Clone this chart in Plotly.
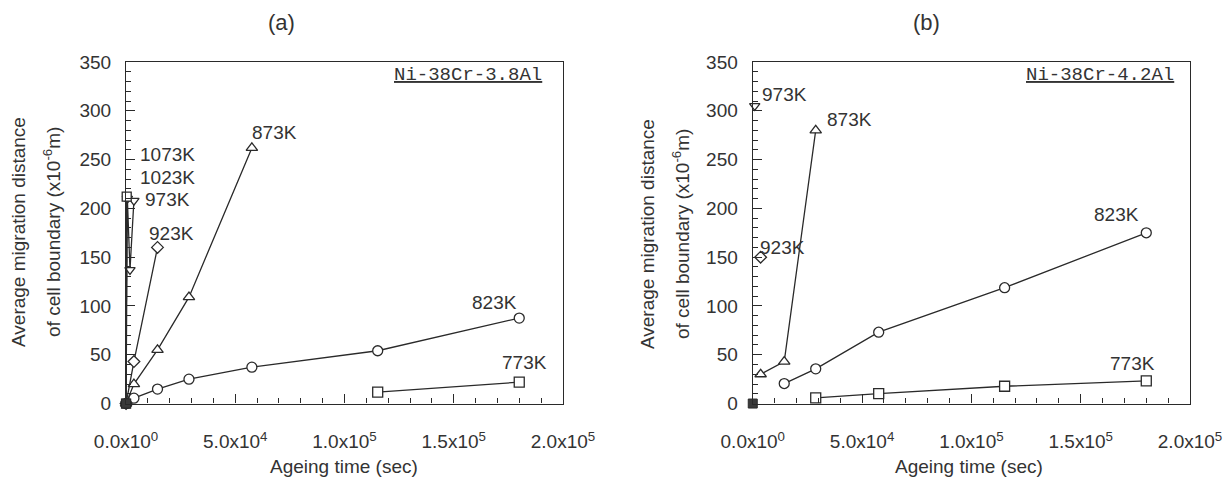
import plotly.graph_objects as go

# ---------------- data (a) Ni-38Cr-3.8Al ----------------
a_773_t = [115200, 180000]
a_773_d = [11.6, 21.9]
a_823_t = [0, 3600, 14400, 28800, 57600, 115200, 180000]
a_823_d = [0, 5.5, 14.8, 25.0, 37.3, 54.1, 87.6]
a_873_t = [0, 3600, 14400, 28800, 57600]
a_873_d = [0, 20, 55, 109, 262]
a_923_t = [0, 3600, 14400]
a_923_d = [0, 43, 160]
a_973_t = [0, 600, 1800, 3600]
a_973_d = [0, 210, 137, 208]
a_1023_t = [0, 300]
a_1023_d = [0, 211]
a_1073_t = [0, 300]
a_1073_d = [0, 212]

# ---------------- data (b) Ni-38Cr-4.2Al ----------------
b_773_t = [28800, 57600, 115200, 180000]
b_773_d = [5.8, 10.2, 17.7, 23.2]
b_823_t = [14400, 28800, 57600, 115200, 180000]
b_823_d = [20.5, 35.6, 73.1, 118.7, 175.0]
b_873_t = [3600, 14400, 28800]
b_873_d = [30, 43, 280]
b_923_t = [3600]
b_923_d = [150]
b_973_t = [900]
b_973_d = [305]

origin_t = [0]
origin_d = [0]

x_tickvals = [0, 50000, 100000, 150000, 200000]
x_ticktext = ["0.0x10<sup>0</sup>", "5.0x10<sup>4</sup>", "1.0x10<sup>5</sup>",
              "1.5x10<sup>5</sup>", "2.0x10<sup>5</sup>"]
y_tickvals = [0, 50, 100, 150, 200, 250, 300, 350]

# labels: (text, x, y)
a_labels = [("1073K", 5500, 255), ("1023K", 5500, 232), ("973K", 7800, 209),
            ("923K", 9600, 174), ("873K", 56800, 278), ("823K", 157400, 104),
            ("773K", 171000, 42)]
b_labels = [("973K", 3300, 317), ("873K", 33100, 291), ("923K", 2400, 160),
            ("823K", 155300, 194), ("773K", 162600, 41)]

INK = "#2a2a2a"
TXT = "#333333"
FONT = "Liberation Sans, Arial, sans-serif"
FS = 19

fig = go.Figure()


def add(t, d, sym, xa, ya, size=10):
    fig.add_trace(go.Scatter(
        x=t, y=d, mode="lines+markers", xaxis=xa, yaxis=ya,
        line=dict(color=INK, width=1.3),
        marker=dict(symbol=sym, size=size, color="white",
                    line=dict(color=INK, width=1.3)),
        cliponaxis=False, showlegend=False, hoverinfo="x+y"))


# panel (a)
add(a_773_t, a_773_d, "square", "x", "y")
add(a_823_t, a_823_d, "circle", "x", "y")
add(a_873_t, a_873_d, "triangle-up", "x", "y")
add(a_923_t, a_923_d, "diamond", "x", "y", 9)
add(a_973_t, a_973_d, "triangle-down", "x", "y", 9)
add(a_1023_t, a_1023_d, "circle", "x", "y", 8)
add(a_1073_t, a_1073_d, "square", "x", "y", 9)
# panel (b)
add(b_773_t, b_773_d, "square", "x2", "y2")
add(b_823_t, b_823_d, "circle", "x2", "y2")
add(b_873_t, b_873_d, "triangle-up", "x2", "y2")
add(b_923_t, b_923_d, "diamond", "x2", "y2", 9)
add(b_973_t, b_973_d, "triangle-down", "x2", "y2", 9)

# overlapping markers at the origin (dark blob)
for xa, ya in (("x", "y"), ("x2", "y2")):
    fig.add_trace(go.Scatter(
        x=origin_t, y=origin_d, mode="markers", xaxis=xa, yaxis=ya,
        marker=dict(symbol="square", size=9, color="#3a3a3a",
                    line=dict(color=INK, width=1)),
        cliponaxis=False, showlegend=False, hoverinfo="skip"))

xcommon = dict(range=[0, 200000], tickvals=x_tickvals, ticktext=x_ticktext,
               ticks="inside", ticklen=9, tickcolor=INK, tickwidth=1,
               minor=dict(dtick=10000, ticks="inside", ticklen=5, tickcolor=INK),
               showline=True, linecolor=INK, linewidth=1.3, mirror=True,
               showgrid=False, zeroline=False, ticklabelstandoff=21,
               automargin=False,
               tickfont=dict(family=FONT, size=FS, color=TXT))
ycommon = dict(range=[0, 350], tickvals=y_tickvals,
               ticks="inside", ticklen=9, tickcolor=INK, tickwidth=1,
               minor=dict(dtick=10, ticks="inside", ticklen=5, tickcolor=INK),
               showline=True, linecolor=INK, linewidth=1.3, mirror=True,
               showgrid=False, zeroline=False, ticklabelstandoff=10,
               automargin=False,
               tickfont=dict(family=FONT, size=FS, color=TXT))

ydom = [0.154, 0.870]
fig.update_layout(
    width=1231, height=477,
    margin=dict(l=0, r=0, t=0, b=0, autoexpand=False),
    paper_bgcolor="white", plot_bgcolor="white",
    font=dict(family=FONT, size=FS, color=TXT),
    xaxis=dict(domain=[0.1024, 0.4573], anchor="y", **xcommon),
    yaxis=dict(domain=ydom, anchor="x", **ycommon),
    xaxis2=dict(domain=[0.6115, 0.9667], anchor="y2", **xcommon),
    yaxis2=dict(domain=ydom, anchor="x2", **ycommon),
)

ann = []
for txt, x, y in a_labels:
    ann.append(dict(text=txt, x=x, y=y, xref="x", yref="y", xanchor="left",
                    yanchor="middle", showarrow=False,
                    font=dict(family=FONT, size=FS, color=TXT)))
for txt, x, y in b_labels:
    ann.append(dict(text=txt, x=x, y=y, xref="x2", yref="y2", xanchor="left",
                    yanchor="middle", showarrow=False,
                    font=dict(family=FONT, size=FS, color=TXT)))


def pann(text, x, y, size=FS, family=FONT, angle=0):
    ann.append(dict(text=text, x=x, y=y, xref="paper", yref="paper",
                    xanchor="center", yanchor="middle", textangle=angle,
                    showarrow=False,
                    font=dict(family=family, size=size, color=TXT)))


# panel titles
pann("(a)", 0.2283, 0.952, size=22)
pann("(b)", 0.7530, 0.952, size=22)
# alloy boxes
MONO = "Liberation Mono, DejaVu Sans Mono, monospace"
pann("<u>Ni-38Cr-3.8Al</u>", 0.3798, 0.843, size=19, family=MONO)
pann("<u>Ni-38Cr-4.2Al</u>", 0.8936, 0.843, size=19, family=MONO)
# x axis titles
for xc in (0.2795, 0.7872):
    pann("Ageing time (sec)", xc, 0.021)
# y axis titles (two lines)
for x1, x2, yc in ((0.0146, 0.0422, 0.5136), (0.5256, 0.5532, 0.5094)):
    pann("Average migration distance", x1, yc, angle=-90)
    pann("of cell boundary (x10<sup>-6</sup>m)", x2, yc, angle=-90)

fig.update_layout(annotations=ann)
fig.write_html("out.html",
               config={"displayModeBar": False},
               post_script="document.body.style.margin='0';"
                           "document.body.style.overflow='hidden';")
